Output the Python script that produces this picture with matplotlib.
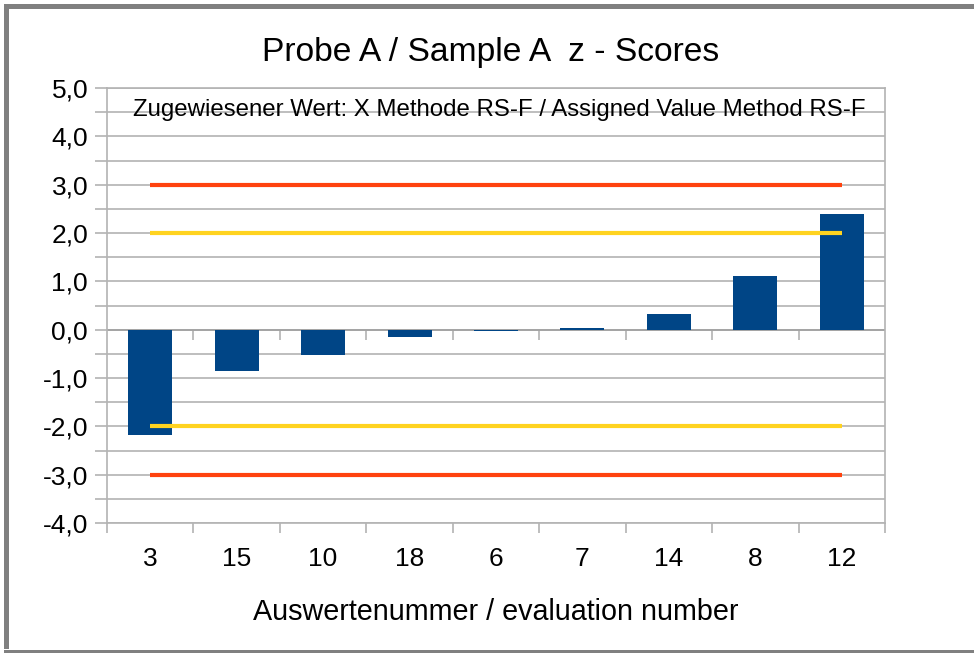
import numpy as np
import matplotlib.pyplot as plt
from matplotlib.patches import Rectangle
from matplotlib.ticker import MultipleLocator, FuncFormatter

plt.rcParams['font.family'] = ['Liberation Sans', 'DejaVu Sans']

# evaluation numbers (categories) and their z-scores
eval_numbers = ["3", "15", "10", "18", "6", "7", "14", "8", "12"]
z_scores = [-2.17, -0.86, -0.52, -0.16, -0.02, 0.03, 0.33, 1.12, 2.40]

# limits |z| = 2 (warning) and |z| = 3 (action)
warn_limit = 2.0
action_limit = 3.0

title = "Probe A / Sample A  z - Scores"
note = "Zugewiesener Wert: X Methode RS-F / Assigned Value Method RS-F"
x_label = "Auswertenummer / evaluation number"

bar_color = "#004586"
red = "#ff420e"
yellow = "#ffd320"
grid_color = "#b3b3b3"
frame_color = "#808080"

fig = plt.figure(figsize=(9.74, 6.53), dpi=100)
W, H = 974, 653
ax = fig.add_axes([107 / W, 1 - 523 / H, 778 / W, 435 / H])

# grey frame round the chart: left, top and bottom only (right side is cut off)
for (x0, y0, w, h) in [(4, 4.5, 5, 644.5), (4, 4.5, 970, 4), (4, 649.5, 970, 3.5)]:
    fig.patches.append(Rectangle((x0 / W, 1 - (y0 + h) / H), w / W, h / H,
                                 transform=fig.transFigure, facecolor=frame_color,
                                 edgecolor="none"))

x = np.arange(len(eval_numbers))
ax.bar(x, z_scores, width=0.51, color=bar_color, zorder=3)

for lim, col in [(action_limit, red), (warn_limit, yellow)]:
    ax.plot([x[0], x[-1]], [lim, lim], color=col, lw=3, zorder=4, solid_capstyle="butt")
    ax.plot([x[0], x[-1]], [-lim, -lim], color=col, lw=3, zorder=4, solid_capstyle="butt")

ax.set_xlim(-0.5, len(eval_numbers) - 0.5)
ax.set_ylim(-4, 5)

ax.yaxis.set_major_locator(MultipleLocator(1))
ax.yaxis.set_minor_locator(MultipleLocator(0.5))
ax.yaxis.set_major_formatter(FuncFormatter(lambda v, p: f"{v:.1f}".replace(".", ",")))
ax.grid(True, which="both", axis="y", color=grid_color, lw=1.2, zorder=0)
ax.tick_params(axis="y", which="both", length=8.6, width=1.2, color=grid_color,
               labelsize=19, pad=5)

# category ticks between bars, at the bottom and along the zero line
bounds = np.arange(len(eval_numbers) + 1) - 0.5
ax.set_xticks(bounds)
ax.set_xticklabels([])
ax.set_xticks(x, minor=True)
ax.set_xticklabels(eval_numbers, minor=True)
ax.tick_params(axis="x", which="major", length=7.5, width=1.2, color=grid_color)
ax.tick_params(axis="x", which="minor", length=0, labelsize=19, pad=17)
ax.vlines(bounds[1:-1], -0.22, 0, color=grid_color, lw=1.2, zorder=2)
ax.axhline(0, color="#a0a0a0", lw=1.2, zorder=2)

for s in ax.spines.values():
    s.set_color(grid_color)
    s.set_linewidth(1.2)

ax.text(0.033, 0.949, note, transform=ax.transAxes, fontsize=17.3, va="center", ha="left")

fig.text(491 / W, 1 - 52 / H, title, fontsize=24.2, ha="center", va="center")
fig.text(496 / W, 1 - 612 / H, x_label, fontsize=20.7, ha="center", va="center")

fig.savefig("out.png", dpi=100)
